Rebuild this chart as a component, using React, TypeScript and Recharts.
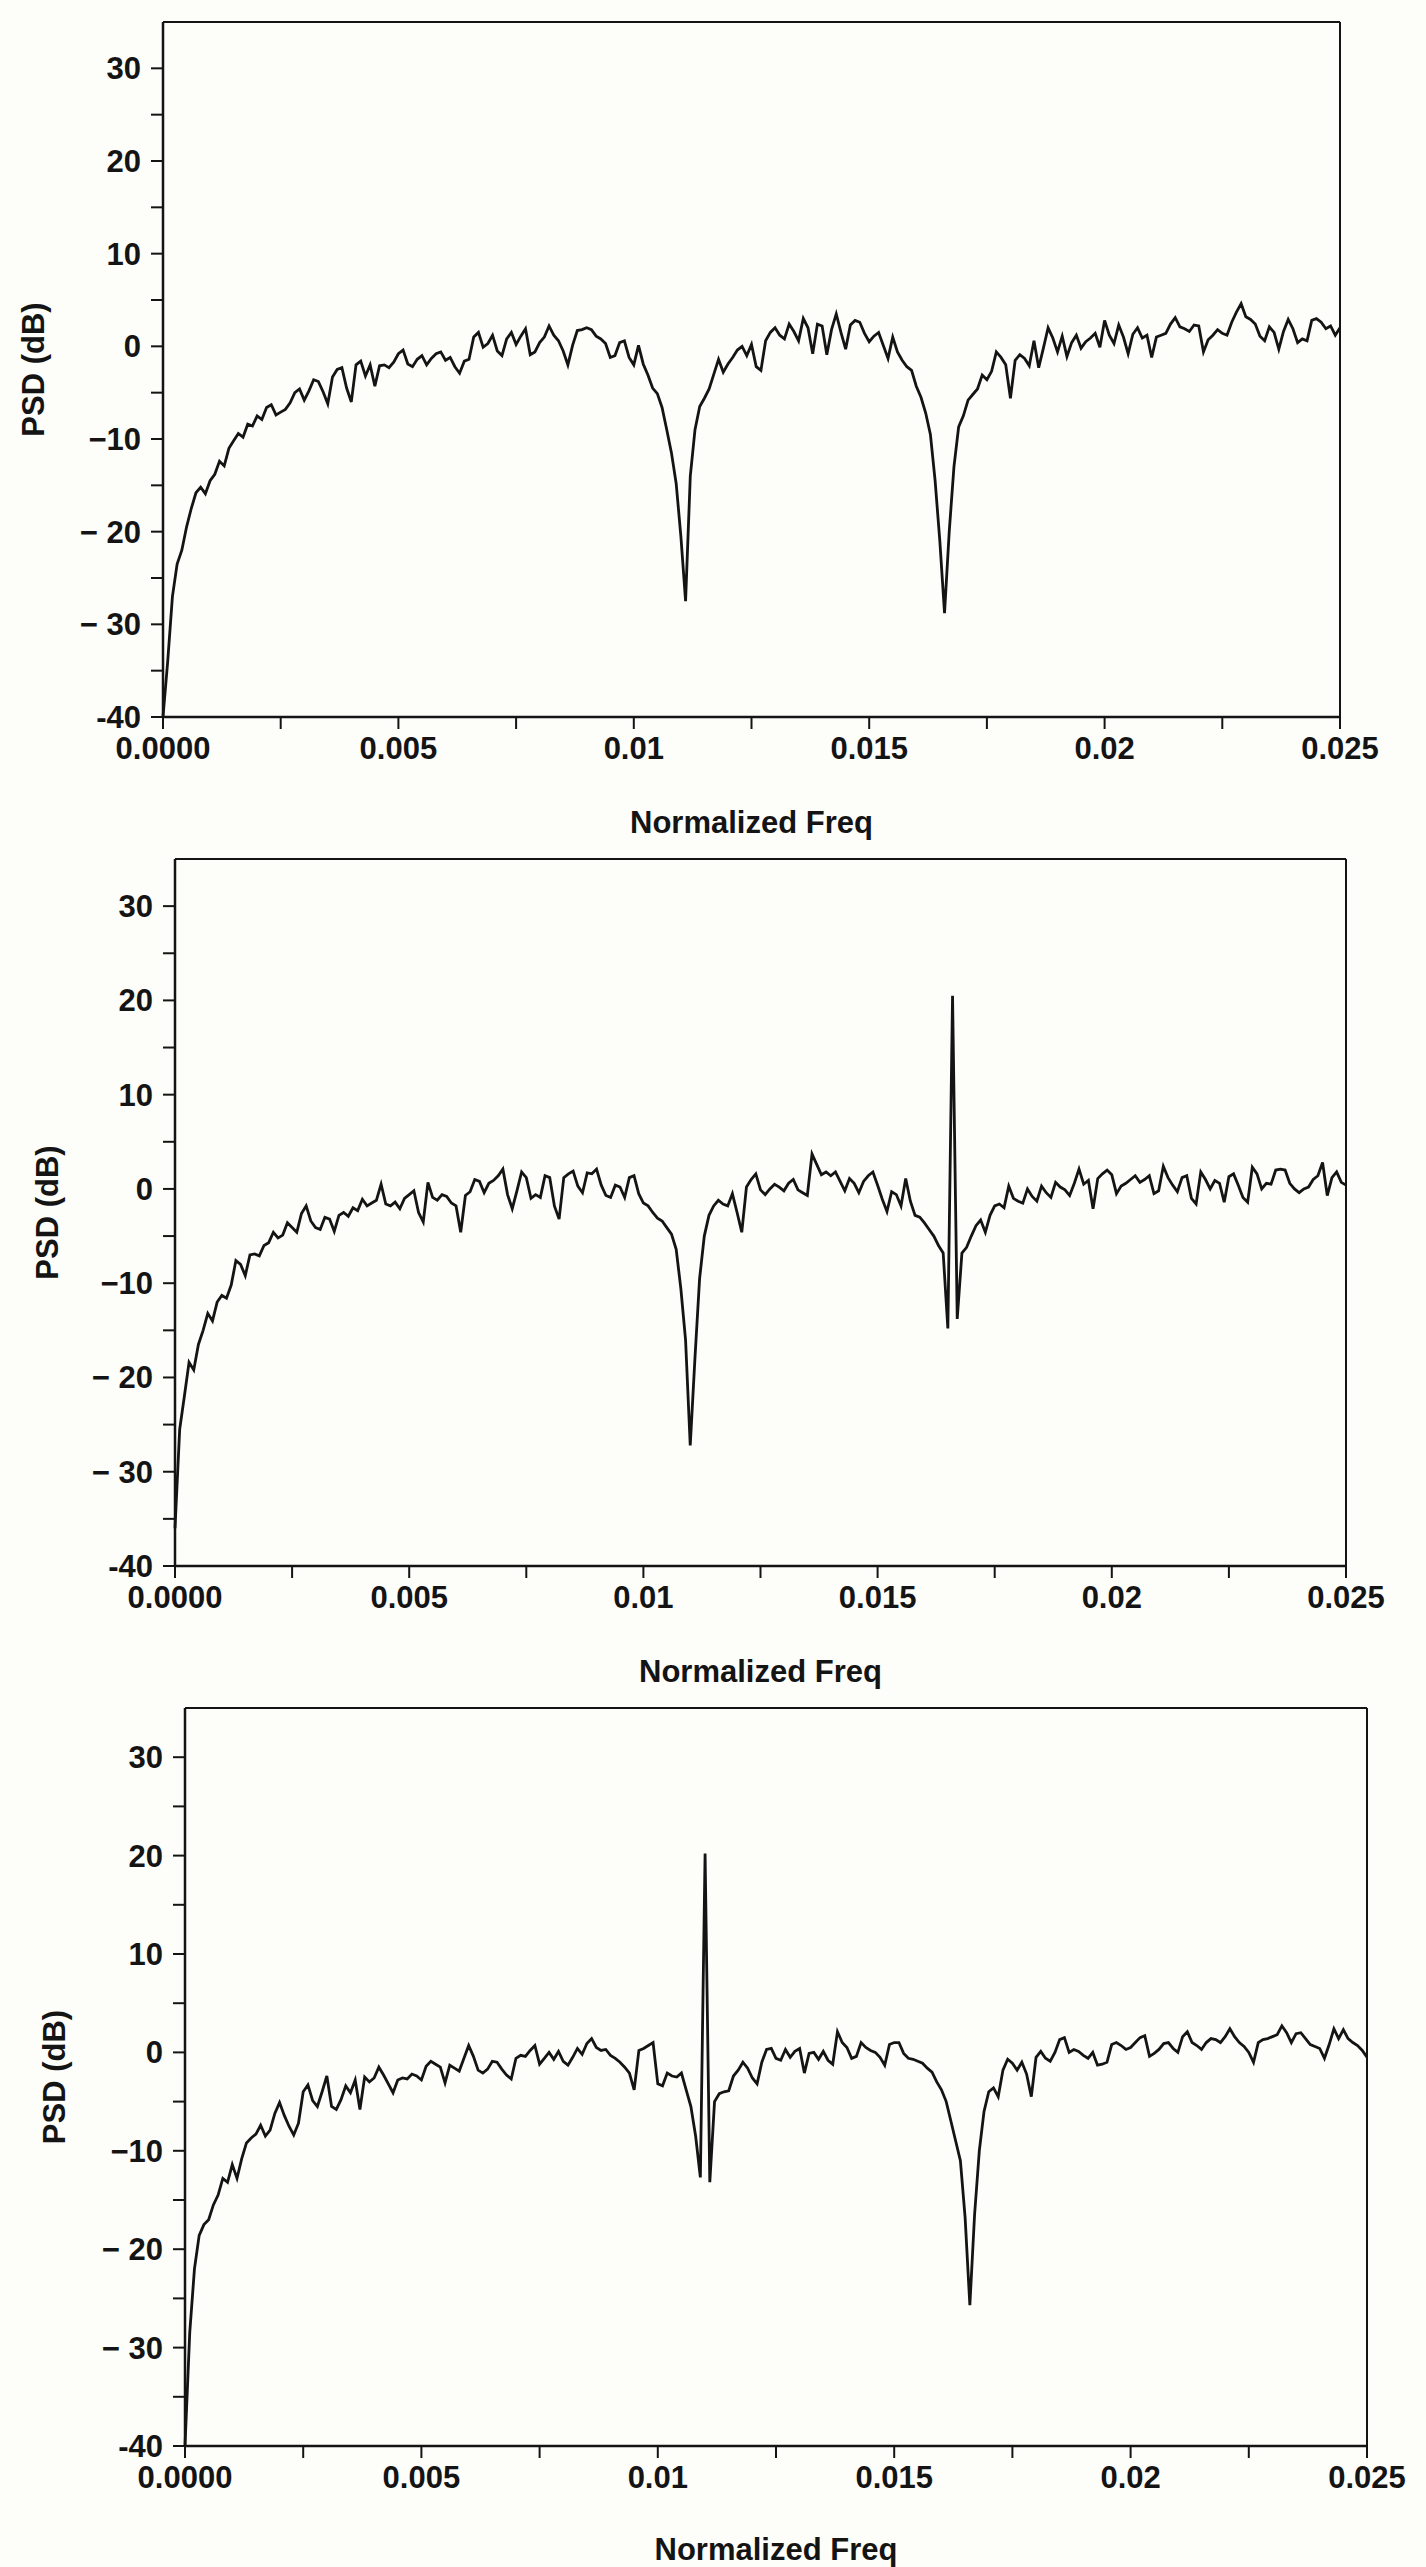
import { LineChart, Line, XAxis, YAxis, ReferenceLine, Label } from 'recharts';

// PSD readings in dB, one value per frequency bin (bin width 0.0001)
const BIN = 0.0001;

const PSD_TOP = [
  -40, -34, -27, -23.5, -22, -19.5, -17.5, -15.8, -15.2, -15.9,
  -14.5, -13.8, -12.4, -12.9, -11, -10.2, -9.4, -9.8, -8.4, -8.6,
  -7.5, -7.9, -6.6, -6.3, -7.4, -7.1, -6.8, -6.1, -5, -4.6,
  -5.8, -4.8, -3.6, -3.8, -4.9, -6.2, -3.3, -2.5, -2.3, -4.5,
  -6, -2, -1.6, -3.2, -2, -4.3, -2.1, -2, -2.3, -1.7,
  -0.8, -0.4, -1.9, -2.2, -1.4, -1, -2, -1.3, -0.8, -0.6,
  -1.5, -1.2, -2.2, -2.9, -1.6, -1.4, 1, 1.5, -0.1, 0.3,
  1.2, -0.5, -1, 0.8, 1.5, 0.2, 1.1, 1.9, -0.9, -0.6,
  0.4, 1, 2.2, 1.2, 0.6, -0.5, -2, 0.1, 1.7, 1.8,
  2, 1.8, 1.1, 0.8, 0.3, -1.2, -1, 0.4, 0.6, -1.2,
  -2, 0.1, -1.9, -3.1, -4.5, -5.1, -6.6, -9, -11.5, -14.8,
  -20.5, -27.5, -14, -9, -6.5, -5.6, -4.6, -3, -1.4, -2.8,
  -1.9, -1.2, -0.4, 0, -1, 0.2, -2.2, -2.6, 0.6, 1.5,
  2, 1.2, 0.8, 2.4, 1.6, 0.6, 3, 2, -0.8, 2.4,
  2.2, -0.9, 1.8, 3.5, 1.5, -0.3, 2.3, 2.8, 2.6, 1.4,
  0.5, 1.1, 1.5, 0.1, -1.3, 1, -0.6, -1.5, -2.2, -2.6,
  -4.3, -5.5, -7.2, -9.5, -14.5, -21, -28.8, -20, -13, -8.7,
  -7.5, -5.8, -5.2, -4.6, -3.1, -3.6, -2.7, -0.6, -1.2, -2,
  -5.6, -1.5, -0.9, -1.3, -2.1, 0.6, -2.3, -0.2, 2, 0.9,
  -0.6, 1.1, -1.1, 0.4, 1.2, -0.2, 0.5, 0.9, 1.4, -0.1,
  2.8, 1.2, 0.3, 2.3, 1, -0.8, 1.3, 2, 0.9, 1.2,
  -1.2, 1, 1.2, 1.4, 2.4, 3.1, 2.1, 1.9, 1.6, 2.3,
  2.2, -0.6, 0.7, 1.2, 1.8, 1.4, 1.2, 2.6, 3.7, 4.6,
  3.2, 2.9, 2.4, 1.1, 0.6, 2.1, 1.5, -0.3, 1.6, 2.9,
  1.9, 0.4, 0.8, 0.6, 2.8, 3, 2.6, 1.9, 2.2, 1.2,
  2,
];

const PSD_MID = [
  -36, -25.5, -22, -18.4, -19.2, -16.5, -15, -13.2, -14, -12,
  -11.3, -11.6, -10.2, -7.6, -8, -9.2, -7, -6.9, -7.1, -6,
  -5.7, -4.6, -5.2, -4.9, -3.6, -4.1, -4.6, -2.6, -1.8, -3.4,
  -4.1, -4.3, -3, -3.2, -4.5, -2.8, -2.5, -2.9, -2, -2.3,
  -1.1, -1.8, -1.5, -1.2, 0.5, -1.6, -1.8, -1.4, -2.1, -1,
  -0.6, -0.2, -2.5, -3.5, 0.7, -0.9, -1.2, -0.6, -0.8, -1.5,
  -1.8, -4.6, -0.7, -0.3, 1, 0.8, -0.4, 0.6, 0.9, 1.4,
  2.1, -0.6, -2.1, -0.2, 1.8, 1.2, -1, -0.6, -0.9, 1.4,
  1.2, -1.8, -3.2, 1.2, 1.6, 1.9, 0.3, -0.4, 1.7, 1.6,
  2.1, 0.4, -0.7, -0.9, 0.4, 0.2, -0.9, 1.2, 1.4, -0.5,
  -1.5, -1.8, -2.5, -3.1, -3.4, -4.1, -4.8, -6.4, -10.6, -16,
  -27.2, -18, -9.5, -5, -2.8, -1.8, -1.2, -1.6, -1.8, -0.5,
  -2.5, -4.6, 0.2, 1, 1.6, -0.1, -0.6, 0, 0.5, 0.2,
  -0.2, 0.6, 1, -0.1, -0.4, -0.7, 3.7, 2.6, 1.5, 1.8,
  1.4, 1.8, 0.8, -0.2, 1.1, 0.6, -0.4, 0.8, 1.4, 1.8,
  0.4, -1.1, -2.4, -0.3, -0.6, -1.8, 1.1, -1.3, -2.8, -3,
  -3.6, -4.3, -5, -6, -6.8, -14.8, 20.5, -13.8, -6.8, -6.2,
  -5, -3.9, -3.3, -4.6, -2.8, -1.8, -1.6, -2, 0.3, -1,
  -1.3, -1.5, 0, -0.8, -1.3, 0.3, -0.4, -0.9, 0.7, 0.2,
  -0.1, -0.7, 0.6, 2.1, 0.5, 0.9, -2.1, 1.1, 1.6, 2,
  1.5, -0.5, 0.3, 0.6, 1, 1.4, 0.7, 1, 1.4, -0.5,
  -0.2, 2.4, 1.2, 0.4, -0.3, 1.2, 1.4, -1, -1.6, 1.8,
  1, 0, 0.9, 0.6, -1.4, 1.3, 1.6, 0.4, -0.9, -1.4,
  2.3, 1.6, 0, 0.6, 0.5, 2, 2.1, 2, 0.6, 0,
  -0.4, 0, 0.2, 1, 1.4, 2.8, -0.7, 1.2, 1.8, 0.7,
  0.4,
];

const PSD_BOT = [
  -40, -28.5, -22, -18.6, -17.5, -17, -15.5, -14.5, -12.8, -13.2,
  -11.4, -12.8, -10.8, -9.2, -8.7, -8.3, -7.4, -8.5, -7.9, -6.2,
  -5.1, -6.4, -7.5, -8.4, -7.2, -4, -3.3, -4.9, -5.5, -4,
  -2.4, -5.5, -5.8, -4.8, -3.4, -4.1, -2.8, -5.8, -2.5, -3,
  -2.6, -1.5, -2.3, -3.2, -4.1, -2.8, -2.6, -2.7, -2.2, -2.4,
  -2.8, -1.4, -0.9, -1.2, -1.5, -3.1, -1.3, -1.6, -1.9, -0.6,
  0.7, -0.4, -1.8, -2.1, -1.7, -0.9, -1, -1.7, -2.3, -2.7,
  -0.6, -0.3, -0.4, 0.2, 0.7, -1.2, -0.6, 0, -0.7, 0.1,
  -0.9, -1.3, -0.5, 0.4, -0.2, 0.9, 1.4, 0.5, 0.2, 0.3,
  -0.3, -0.6, -1, -1.5, -2.1, -3.8, 0.2, 0.4, 0.7, 1,
  -3.2, -3.4, -2.1, -2.4, -2.5, -2.1, -3.8, -5.5, -8.5, -12.7,
  20.2, -13.2, -5, -4.2, -4, -3.9, -2.4, -1.8, -1, -1.6,
  -2.6, -3.2, -1, 0.3, 0.4, -0.6, -0.8, 0.3, -0.5, 0.1,
  0.4, -2.1, -0.1, 0, -0.7, 0.1, -0.8, -1.2, 2.1, 1,
  0.5, -0.6, -0.4, 1, 0.5, 0.2, 0, -0.5, -1.3, 0.8,
  1, 1, -0.1, -0.6, -0.7, -0.9, -1.1, -1.6, -2, -3,
  -3.8, -5, -7, -9, -11, -16.8, -25.7, -16.5, -10, -6,
  -4, -3.6, -4.5, -1.8, -0.7, -1.1, -1.8, -1, -2.2, -4.5,
  -0.5, 0.1, -0.6, -0.9, 0, 1.3, 1.5, 0, 0.3, 0.1,
  -0.3, -0.6, 0, -1.3, -1.2, -1, 0.8, 1, 0.7, 0.3,
  0.5, 1, 1.5, 1.7, -0.4, -0.1, 0.3, 0.9, 1, 0.4,
  0, 1.6, 2.1, 1, 0.7, 0.3, 1, 1.4, 1.3, 1,
  1.6, 2.4, 1.6, 1, 0.6, 0, -1, 1, 1.3, 1.4,
  1.6, 1.8, 2.7, 2, 1, 1.9, 2, 1.4, 0.8, 0.6,
  0.4, -0.6, 0.8, 2.4, 1.4, 2.3, 1.4, 1, 0.7, 0.2,
  -0.5,
];

const X_TICKS = [0, 0.0025, 0.005, 0.0075, 0.01, 0.0125, 0.015, 0.0175, 0.02, 0.0225, 0.025];
const X_TICK_LABELS = ['0.0000', '', '0.005', '', '0.01', '', '0.015', '', '0.02', '', '0.025'];
const Y_TICKS = [-40, -35, -30, -25, -20, -15, -10, -5, 0, 5, 10, 15, 20, 25, 30];
const Y_TICK_LABELS = ['-40', '', '− 30', '', '− 20', '', '−10', '', '0', '', '10', '', '20', '', '30'];

const FONT = '"Liberation Sans", Arial, Helvetica, sans-serif';
const INK = '#141414';
const YW = 150;
const XH = 60;

interface Panel {
  values: number[];
  left: number;
  right: number;
  top: number;
  bottom: number;
  yLabelX: number;
  xLabelOffset: number;
}

const PANELS: Panel[] = [
  { values: PSD_TOP, left: 163, right: 1340, top: 22, bottom: 717, yLabelX: 33, xLabelOffset: 34 },
  { values: PSD_MID, left: 175, right: 1346, top: 859, bottom: 1566, yLabelX: 47, xLabelOffset: 34 },
  { values: PSD_BOT, left: 185, right: 1367, top: 1708, bottom: 2446, yLabelX: 54, xLabelOffset: 32 },
];

const textStyle = { fill: INK, fontSize: 31, fontWeight: 700, fontFamily: FONT };

function PsdPanel({ p }: { p: Panel }) {
  const data = p.values.map((v, i) => ({ f: i * BIN, v }));
  const height = p.bottom - p.top + 20 + 150;
  return (
    <div style={{ position: 'absolute', left: 0, top: p.top - 20 }}>
      <LineChart
        width={1426}
        height={height}
        data={data}
        margin={{ top: 20, right: 1426 - p.right, bottom: 150 - XH, left: p.left - YW }}
      >
        <XAxis
          type="number"
          dataKey="f"
          domain={[0, 0.025]}
          ticks={X_TICKS}
          interval={0}
          height={XH}
          tickFormatter={(_v: number, i: number) => X_TICK_LABELS[i]}
          tick={textStyle}
          tickSize={12}
          tickMargin={8}
          axisLine={{ stroke: INK, strokeWidth: 2.5 }}
          tickLine={{ stroke: INK, strokeWidth: 2 }}
        >
          <Label value="Normalized Freq" position="bottom" offset={p.xLabelOffset} style={textStyle} />
        </XAxis>
        <YAxis
          type="number"
          domain={[-40, 35]}
          ticks={Y_TICKS}
          interval={0}
          width={YW}
          tickFormatter={(_v: number, i: number) => Y_TICK_LABELS[i]}
          tick={textStyle}
          tickSize={12}
          tickMargin={10}
          axisLine={{ stroke: INK, strokeWidth: 2.5 }}
          tickLine={{ stroke: INK, strokeWidth: 2 }}
        >
          <Label
            value="PSD (dB)"
            angle={-90}
            position="insideLeft"
            offset={p.yLabelX - (p.left - YW)}
            style={{ ...textStyle, textAnchor: 'middle' }}
          />
        </YAxis>
        <ReferenceLine y={35} stroke={INK} strokeWidth={2} />
        <ReferenceLine x={0.025} stroke={INK} strokeWidth={2} />
        <Line
          type="linear"
          dataKey="v"
          stroke={INK}
          strokeWidth={2.8}
          dot={false}
          isAnimationActive={false}
        />
      </LineChart>
    </div>
  );
}

export default function App() {
  return (
    <div style={{ position: 'absolute', left: 0, top: 0, width: 1426, height: 2567, background: '#fdfdfa' }}>
      {PANELS.map((p, i) => (
        <PsdPanel key={i} p={p} />
      ))}
    </div>
  );
}
